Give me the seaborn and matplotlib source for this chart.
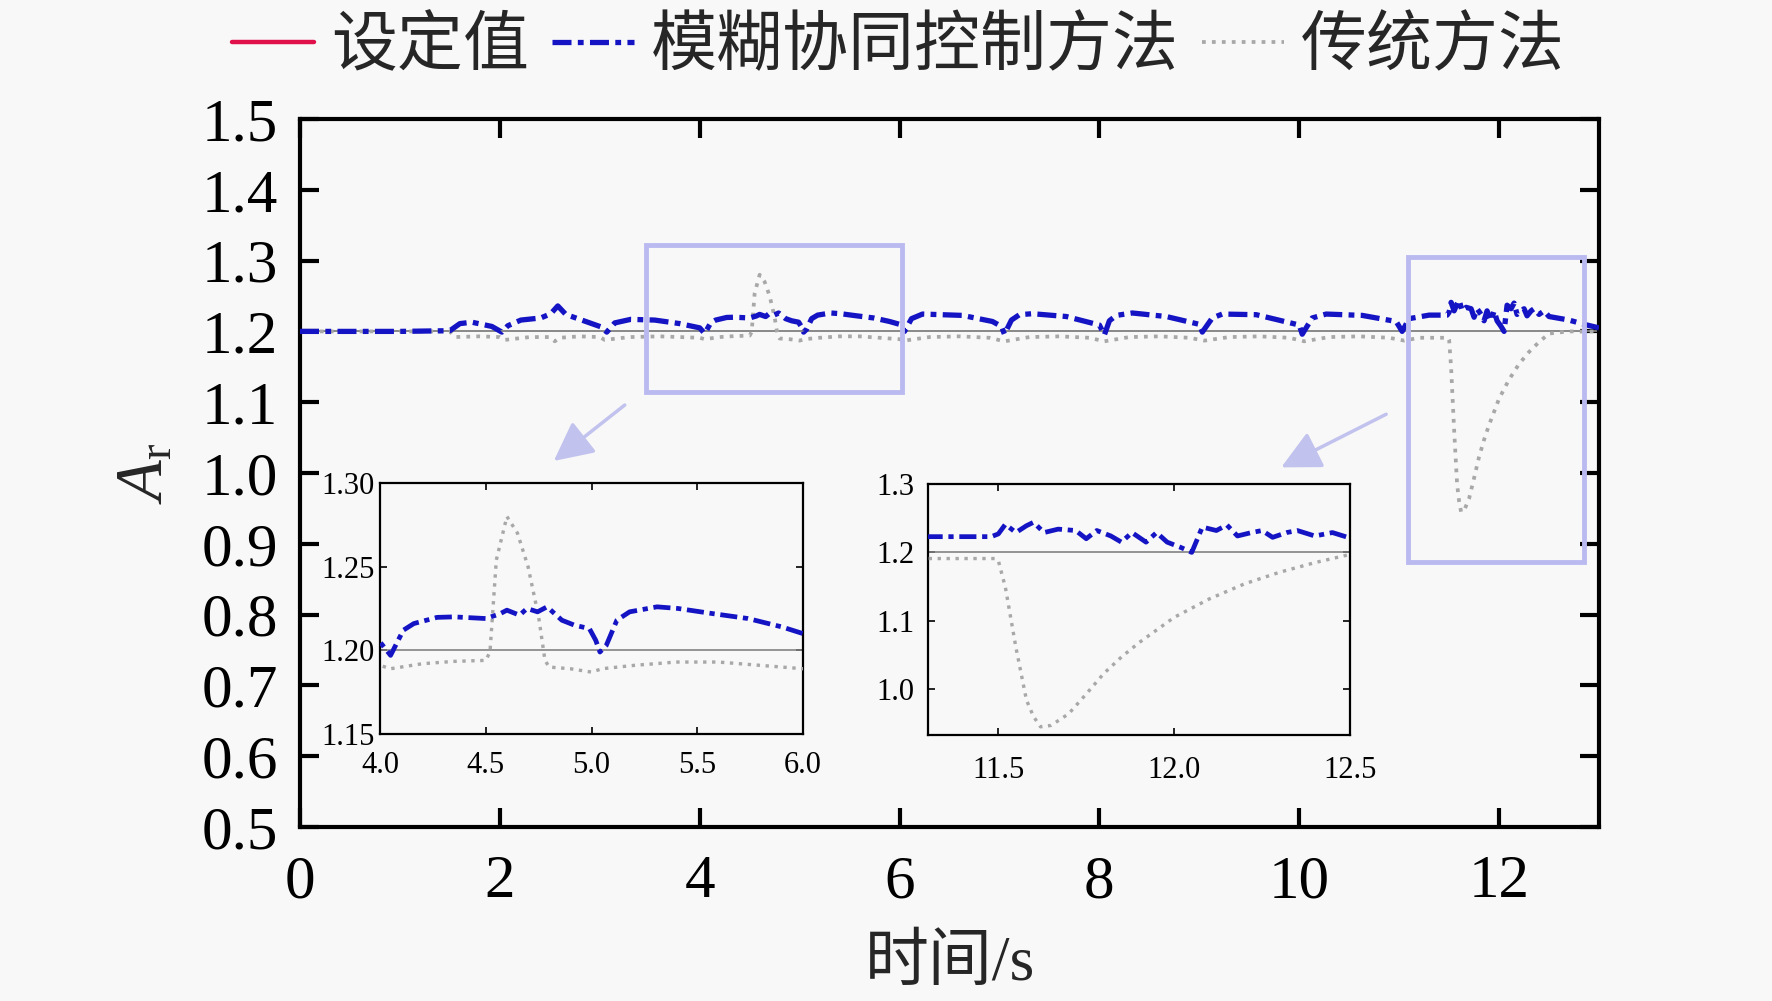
import numpy as np
import pandas as pd
import seaborn as sns
import matplotlib
matplotlib.use("Agg")
import matplotlib.pyplot as plt
from matplotlib.lines import Line2D
from matplotlib.patches import Rectangle
from matplotlib.ticker import FormatStrFormatter

# ---------------- data ----------------
labels = ["设定值", "模糊协同控制方法", "传统方法"]

t_set = [0.0, 13.0]
v_set = [1.2, 1.2]

t_fuzzy = [0.0, 0.5, 1.0, 1.5, 1.6, 1.72, 1.92, 2.02, 2.08, 2.21, 2.41, 2.51, 2.58, 2.66,
           2.82, 3.02, 3.07, 3.15, 3.31, 3.55, 3.80, 4.0, 4.05, 4.11, 4.16, 4.27, 4.35, 4.5,
           4.565, 4.6, 4.66, 4.695, 4.745, 4.79, 4.86, 4.92, 4.99, 5.02, 5.04, 5.07, 5.12,
           5.18, 5.31, 5.41, 5.57, 5.74, 5.9, 6.0, 6.05, 6.12, 6.23, 6.63, 6.93, 7.02, 7.05,
           7.12, 7.2, 7.33, 7.67, 8.0, 8.05, 8.1, 8.17, 8.33, 8.67, 9.0, 9.03, 9.13, 9.23,
           9.57, 10.0, 10.03, 10.13, 10.27, 10.63, 10.97, 11.03, 11.1, 11.3, 11.48, 11.5,
           11.52, 11.55, 11.58, 11.6, 11.63, 11.67, 11.72, 11.75, 11.78, 11.82, 11.85, 11.88,
           11.92, 11.95, 11.98, 12.02, 12.05, 12.08, 12.12, 12.15, 12.18, 12.22, 12.25, 12.28,
           12.32, 12.35, 12.4, 12.45, 12.5, 12.7, 12.85, 13.0]
v_fuzzy = [1.2, 1.2, 1.2, 1.201, 1.211, 1.213, 1.207, 1.199, 1.208, 1.216, 1.219, 1.225, 1.236,
           1.224, 1.216, 1.206, 1.199, 1.212, 1.217, 1.216, 1.211, 1.205, 1.197, 1.212, 1.216,
           1.2197, 1.220, 1.219, 1.2217, 1.224, 1.221, 1.225, 1.223, 1.226, 1.218, 1.215,
           1.213, 1.206, 1.199, 1.203, 1.218, 1.223, 1.226, 1.225, 1.222, 1.219, 1.214, 1.21,
           1.2, 1.218, 1.2245, 1.2226, 1.214, 1.207, 1.196, 1.216, 1.2236, 1.225, 1.221, 1.209,
           1.195, 1.215, 1.2226, 1.226, 1.221, 1.210, 1.199, 1.219, 1.2245, 1.2236, 1.209,
           1.196, 1.219, 1.2245, 1.2226, 1.214, 1.2, 1.218, 1.223, 1.223, 1.227, 1.241, 1.229,
           1.239, 1.244, 1.229, 1.234, 1.232, 1.22, 1.232, 1.224, 1.215, 1.229, 1.215, 1.229,
           1.215, 1.207, 1.2, 1.237, 1.232, 1.24, 1.224, 1.229, 1.232, 1.222, 1.229, 1.232,
           1.224, 1.229, 1.221, 1.216, 1.21, 1.205]

t_trad = [0.0, 0.5, 1.0, 1.5, 1.55, 1.8, 2.0, 2.05, 2.3, 2.5, 2.55, 2.6, 2.8, 3.0, 3.05, 3.3,
          3.6, 3.8, 4.0, 4.05, 4.2, 4.35, 4.5, 4.52, 4.55, 4.6, 4.65, 4.7, 4.75, 4.78, 4.8,
          4.9, 5.0, 5.05, 5.2, 5.4, 5.6, 5.8, 6.0, 6.05, 6.3, 6.6, 6.9, 7.05, 7.3, 7.6, 7.9,
          8.05, 8.3, 8.6, 8.9, 9.05, 9.3, 9.6, 9.9, 10.05, 10.3, 10.6, 10.9, 11.05, 11.2,
          11.49, 11.5, 11.52, 11.55, 11.58, 11.6, 11.62, 11.65, 11.7, 11.75, 11.8, 11.85,
          11.9, 12.0, 12.1, 12.2, 12.3, 12.4, 12.5, 12.7, 13.0]
v_trad = [1.2, 1.2, 1.2, 1.2, 1.192, 1.193, 1.192, 1.188, 1.192, 1.192, 1.186, 1.191, 1.193,
          1.192, 1.188, 1.192, 1.193, 1.192, 1.191, 1.189, 1.192, 1.1934, 1.194, 1.199, 1.254,
          1.280, 1.270, 1.25, 1.22, 1.194, 1.190, 1.189, 1.187, 1.189, 1.191, 1.193, 1.193,
          1.191, 1.189, 1.187, 1.192, 1.193, 1.191, 1.186, 1.192, 1.193, 1.191, 1.186, 1.192,
          1.193, 1.191, 1.187, 1.192, 1.193, 1.191, 1.186, 1.192, 1.193, 1.191, 1.187, 1.191,
          1.191, 1.188, 1.149, 1.061, 0.984, 0.960, 0.945, 0.947, 0.964, 0.993, 1.023, 1.047,
          1.068, 1.105, 1.132, 1.154, 1.171, 1.185, 1.197, 1.2, 1.2]

main_xticks = [0, 2, 4, 6, 8, 10, 12]
main_yticks = [0.5, 0.6, 0.7, 0.8, 0.9, 1.0, 1.1, 1.2, 1.3, 1.4, 1.5]
ins1_xticks = [4.0, 4.5, 5.0, 5.5, 6.0]
ins1_yticks = [1.15, 1.20, 1.25, 1.30]
ins2_xticks = [11.5, 12.0, 12.5]
ins2_yticks = [1.0, 1.1, 1.2, 1.3]

# ---------------- style ----------------
sns.set_theme(style="ticks")
plt.rcParams["font.family"] = ["Liberation Serif", "Noto Sans CJK SC"]
plt.rcParams["mathtext.fontset"] = "custom"
plt.rcParams["mathtext.rm"] = "Liberation Serif"
plt.rcParams["mathtext.it"] = "Liberation Serif:italic"
plt.rcParams["axes.unicode_minus"] = False

BG = "#f8f8f8"
C_SET_LEG = "#e0104a"
C_SET = "#808080"
C_FUZ = "#1414c4"
C_TRAD = "#a8a8a8"
C_BOX = "#babaf0"
LS_FUZ = (0, (3.6, 1.2, 1.1, 1.2))

W, H = 1772, 1001
fig = plt.figure(figsize=(W / 100, H / 100), dpi=100, facecolor=BG)


def px_axes(l, t, r, b):
    return fig.add_axes([l / W, 1 - b / H, (r - l) / W, (b - t) / H])


def draw_series(a, lw_scale=1.0):
    sns.lineplot(x=t_set, y=v_set, ax=a, color=C_SET, lw=1.3 * lw_scale,
                 estimator=None, zorder=2)
    sns.lineplot(x=t_trad, y=v_trad, ax=a, color=C_TRAD, lw=2.7 * lw_scale,
                 linestyle=":", estimator=None, zorder=3)
    sns.lineplot(x=t_fuzzy, y=v_fuzzy, ax=a, color=C_FUZ, lw=3.8 * lw_scale,
                 linestyle=LS_FUZ, estimator=None, zorder=4)


# ---------------- main axes ----------------
ax = px_axes(300, 119, 1599, 827)
ax.set_facecolor(BG)
draw_series(ax)
ax.set_xlim(0, 13)
ax.set_ylim(0.5, 1.5)
ax.set_xticks(main_xticks)
ax.set_yticks(main_yticks)
ax.yaxis.set_major_formatter(FormatStrFormatter("%.1f"))
ax.tick_params(direction="in", length=14, width=3, top=True, right=True,
               labelsize=44, colors="black")
ax.tick_params(axis="y", pad=16)
ax.tick_params(axis="x", pad=20)
for s in ax.spines.values():
    s.set_linewidth(3)
    s.set_color("black")
ax.set_xlabel("时间/s", fontsize=46, labelpad=18)
ax.set_ylabel("$A_\\mathrm{r}$", fontsize=48, labelpad=18)

# zoom boxes and arrows
ax.add_patch(Rectangle((3.46, 1.114), 2.56, 0.208, fill=False, ec=C_BOX, lw=3.5, zorder=6))
ax.add_patch(Rectangle((11.09, 0.874), 1.76, 0.431, fill=False, ec=C_BOX, lw=3.5, zorder=6))
arrow_kw = dict(arrowstyle="-|>,head_length=0.8,head_width=0.4", color="#c2c2ee",
                lw=2.5, mutation_scale=30, shrinkA=0, shrinkB=0)
ax.annotate("", xy=(2.54, 1.017), xytext=(3.25, 1.096), arrowprops=arrow_kw)
ax.annotate("", xy=(9.82, 1.008), xytext=(10.87, 1.083), arrowprops=arrow_kw)

# ---------------- insets ----------------
def style_inset(a, xt, yt, xfmt, yfmt, xpad, ypad):
    a.set_facecolor(BG)
    a.set_xticks(xt)
    a.set_yticks(yt)
    a.xaxis.set_major_formatter(FormatStrFormatter(xfmt))
    a.yaxis.set_major_formatter(FormatStrFormatter(yfmt))
    a.tick_params(direction="in", length=5, width=1.2, top=True, right=True,
                  labelsize=22, colors="black")
    a.tick_params(axis="x", pad=xpad)
    a.tick_params(axis="y", pad=ypad)
    a.set_xlabel("")
    a.set_ylabel("")
    for s in a.spines.values():
        s.set_linewidth(1.6)
        s.set_color("black")


ins1 = px_axes(380, 483, 803, 734)
draw_series(ins1, 0.9)
ins1.set_xlim(4.0, 6.0)
ins1.set_ylim(1.15, 1.30)
style_inset(ins1, ins1_xticks, ins1_yticks, "%.1f", "%.2f", 12, 4)

ins2 = px_axes(928, 484, 1350, 735)
draw_series(ins2, 0.9)
ins2.set_xlim(11.3, 12.5)
ins2.set_ylim(0.933, 1.3)
style_inset(ins2, ins2_xticks, ins2_yticks, "%.1f", "%.1f", 15, 10)

# ---------------- legend ----------------
handles = [Line2D([], [], color=C_SET_LEG, lw=3.2),
           Line2D([], [], color=C_FUZ, lw=3.8, linestyle=LS_FUZ),
           Line2D([], [], color=C_TRAD, lw=2.7, linestyle=":")]
fig.legend(handles, labels, loc="center", bbox_to_anchor=(0.507, 0.952), ncol=3,
           frameon=False, fontsize=47.5, handlelength=1.25, handletextpad=0.25,
           columnspacing=0.35, borderaxespad=0)

fig.savefig("out.png", dpi=100, facecolor=BG)
